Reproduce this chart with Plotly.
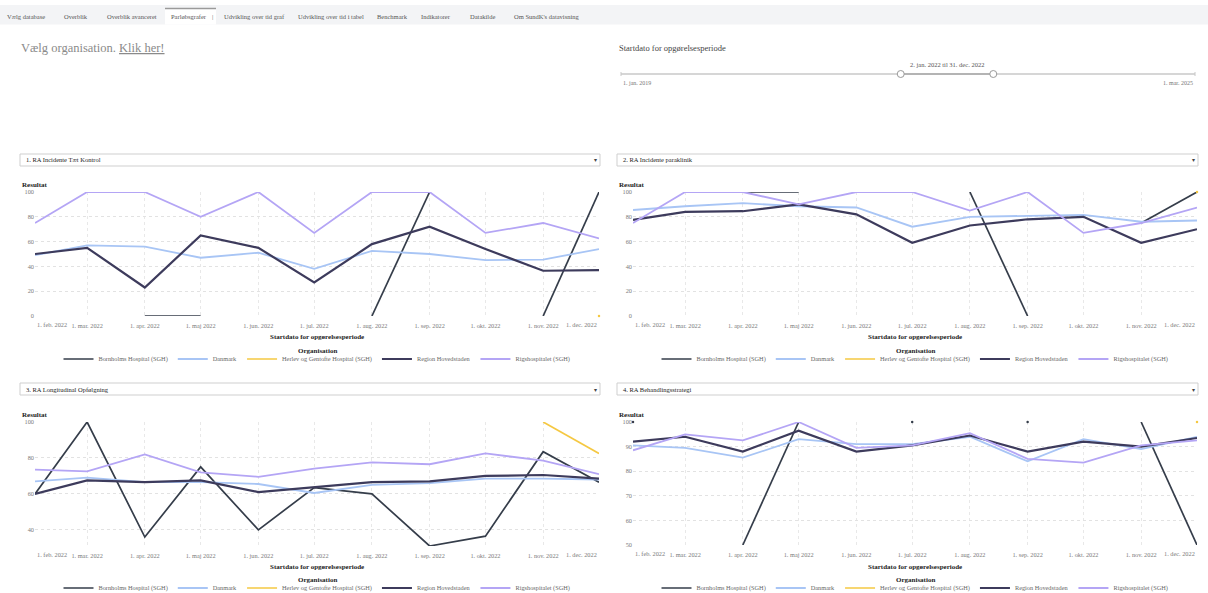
import plotly.graph_objects as go
from datetime import date

W, H = 1208, 593
FONT = "Liberation Serif"

months = ["2022-02-01", "2022-03-01", "2022-04-01", "2022-05-01", "2022-06-01", "2022-07-01",
          "2022-08-01", "2022-09-01", "2022-10-01", "2022-11-01", "2022-12-01"]
month_labels = ["1. feb. 2022", "1. mar. 2022", "1. apr. 2022", "1. maj 2022", "1. jun. 2022",
                "1. jul. 2022", "1. aug. 2022", "1. sep. 2022", "1. okt. 2022", "1. nov. 2022",
                "1. dec. 2022"]

organisations = ["Bornholms Hospital (SGH)", "Danmark", "Herlev og Gentofte Hospital (SGH)",
                 "Region Hovedstaden", "Rigshospitalet (SGH)"]
org_colors = ["#353d4a", "#a8c5f5", "#f5c842", "#3d3b5c", "#b4a5f5"]
org_widths = [1.7, 1.8, 1.7, 2.2, 1.8]

indicator_titles = ["1. RA Incidente Tæt Kontrol", "2. RA Incidente paraklinik",
                    "3. RA Longitudinal Opfølgning", "4. RA Behandlingsstrategi"]

N = None
# Chart 1: RA Incidente Tæt Kontrol
c1_bornholm = [N, N, 0, 0, N, N, 0, 100, N, 0, 100]
c1_danmark = [49, 57, 56, 47, 51, 38, 52.5, 50, 45, 45.5, 54]
c1_herlev = [N, N, N, N, N, N, N, N, N, N, 0]
c1_region = [50, 55, 23, 65, 55, 27, 58, 72, 54, 36.5, 37]
c1_rigs = [75, 100, 100, 80, 100, 67, 100, 100, 67, 75, 62.5]

# Chart 2: RA Incidente paraklinik
c2_bornholm = [N, N, 100, 100, N, N, 100, 0, N, 75, 100]
c2_danmark = [85.5, 88.5, 91, 88.5, 87.5, 72, 80, 80.5, 81.5, 76, 77]
c2_herlev = [N, N, N, N, N, N, N, N, N, N, 100]
c2_region = [77.5, 84, 84.5, 90, 82, 59, 73, 78, 80, 59, 70]
c2_rigs = [75, 100, 100, 90, 100, 100, 85, 100, 67, 75, 87.5]

# Chart 3: RA Longitudinal Opfølgning
c3_bornholm = [60, 100, 36, 75, 40, 63.5, 60, 31, 36.5, 83.5, 66.5]
c3_danmark = [67, 69, 66.5, 66.5, 65.5, 60.5, 65, 66, 68.5, 68.5, 68]
c3_herlev = [N, N, N, N, N, N, N, N, N, 100, 82.5]
c3_region = [60, 67.5, 66.5, 67.5, 61, 63.5, 66.5, 67, 70, 70.5, 68.5]
c3_rigs = [73.5, 72.5, 82, 72, 69.5, 74, 77.5, 76.5, 82.5, 78.5, 71]

# Chart 4: RA Behandlingsstrategi
c4_bornholm = [100, N, 50, 100, N, 100, N, 100, N, 100, 50]
c4_danmark = [90.5, 89.5, 85.5, 93, 91, 91, 94, 84, 93, 89, 94]
c4_herlev = [N, N, N, N, N, N, N, N, N, N, 100]
c4_region = [92, 94, 88, 96.5, 88, 90.5, 94.5, 88, 92, 90, 93.5]
c4_rigs = [88.5, 95, 92.5, 100, 89.5, 90.5, 95.5, 85, 83.5, 90.5, 92.5]

charts = [
    [c1_bornholm, c1_danmark, c1_herlev, c1_region, c1_rigs],
    [c2_bornholm, c2_danmark, c2_herlev, c2_region, c2_rigs],
    [c3_bornholm, c3_danmark, c3_herlev, c3_region, c3_rigs],
    [c4_bornholm, c4_danmark, c4_herlev, c4_region, c4_rigs],
]
y_dticks = [20, 20, 20, 10]

nav_tabs = ["Vælg database", "Overblik", "Overblik avanceret", "Parløbsgrafer", "|",
            "Udvikling over tid graf", "Udvikling over tid i tabel", "Benchmark",
            "Indikatorer", "Datakilde", "Om SundK's datavisning"]
nav_x = [5, 62, 105, 169, 210, 222, 296, 375, 419, 468, 512]

slider_min, slider_max = date(2019, 1, 1), date(2025, 3, 1)
slider_lo, slider_hi = date(2022, 1, 2), date(2022, 12, 31)


def fx(px):
    return px / W


def fy(py):
    return 1 - py / H


def isolated_only(vals):
    out = []
    for k, v in enumerate(vals):
        prev_none = k == 0 or vals[k - 1] is None
        next_none = k == len(vals) - 1 or vals[k + 1] is None
        out.append(v if (v is not None and prev_none and next_none) else None)
    return out


# plot-area pixel boxes: (left, right, top, bottom)
boxes = [(35, 599, 192, 316), (633, 1197, 192, 316), (35, 599, 422, 546), (633, 1197, 422, 545)]
legend_rows = [359, 359, 588, 588]
legend_title_y = [351, 351, 580, 580]
xtitle_y = [337, 337, 567, 567]
dropdown_y = [(154, 166), (154, 166), (383, 395), (383, 395)]
dropdown_x = [(20, 600), (617, 1198), (20, 600), (617, 1198)]

fig = go.Figure()
layout = dict(width=W, height=H, margin=dict(l=0, r=0, t=0, b=0, autoexpand=False),
              paper_bgcolor="white", plot_bgcolor="white",
              font=dict(family=FONT, size=7, color="#666"), showlegend=True)

shapes, annotations = [], []
tickfont = dict(family=FONT, size=6.3, color="#7a7a7a")
inner_text = [""] + month_labels[1:-1] + [""]

for i, series in enumerate(charts):
    k = "" if i == 0 else str(i + 1)
    leg = "legend" if i == 0 else f"legend{i + 1}"
    for j, vals in enumerate(series):
        fig.add_trace(go.Scatter(
            x=months, y=vals, mode="lines", name=organisations[j],
            line=dict(color=org_colors[j], width=org_widths[j]),
            xaxis="x" + k, yaxis="y" + k, legend=leg, connectgaps=False, cliponaxis=False,
        ))
        iso = isolated_only(vals)
        if any(v is not None for v in iso):
            fig.add_trace(go.Scatter(
                x=months, y=iso, mode="markers", name=organisations[j], showlegend=False,
                marker=dict(size=2.5, color=org_colors[j], line=dict(width=0)),
                xaxis="x" + k, yaxis="y" + k, cliponaxis=False, hoverinfo="skip",
            ))
    all_vals = [v for s in series for v in s if v is not None]
    l, r, t, b = boxes[i]
    layout["xaxis" + k] = dict(
        domain=[fx(l), fx(r)], anchor="y" + k, type="date", range=[months[0], months[-1]],
        tickvals=months, ticktext=inner_text, showgrid=True, gridcolor="#e8e8e8",
        griddash="dot", zeroline=False, showline=False, ticks="",
        tickfont=tickfont, ticklabelstandoff=5,
    )
    layout["yaxis" + k] = dict(
        domain=[fy(b), fy(t)], anchor="x" + k, dtick=y_dticks[i],
        range=[min(all_vals), max(all_vals)], showgrid=True,
        gridcolor="#e2e2e2", griddash="dot", zeroline=False, showline=False, ticks="",
        tickfont=tickfont,
    )
    # first / last tick labels flush inside the plot area
    for tv, tt, anch in [(months[0], month_labels[0], "left"),
                         (months[-1], month_labels[-1], "right")]:
        annotations.append(dict(x=tv, xref="x" + k, y=0, yref=f"y{k} domain", text=tt,
                                showarrow=False, xanchor=anch, yanchor="top", yshift=-2.5,
                                font=tickfont))
    layout[leg] = dict(
        orientation="h", x=fx((l + r) / 2), xanchor="center", y=fy(legend_rows[i]),
        yanchor="middle", font=dict(family=FONT, size=6.3, color="#666"),
        bgcolor="rgba(0,0,0,0)", itemwidth=30, tracegroupgap=0,
    )
    annotations.append(dict(x=fx((l + r) / 2), y=fy(legend_title_y[i]), xref="paper",
                            yref="paper", text="<b>Organisation</b>", showarrow=False,
                            xanchor="center", yanchor="middle",
                            font=dict(family=FONT, size=7, color="#222")))
    annotations.append(dict(x=fx(dropdown_x[i][0]), y=fy(t - 7), xref="paper", yref="paper",
                            text="<b>Resultat</b>", showarrow=False, xanchor="left",
                            yanchor="middle", font=dict(family=FONT, size=7, color="#222")))
    annotations.append(dict(x=fx((l + r) / 2), y=fy(xtitle_y[i]), xref="paper", yref="paper",
                            text="<b>Startdato for opgørelsesperiode</b>", showarrow=False,
                            xanchor="center", yanchor="middle",
                            font=dict(family=FONT, size=7, color="#222")))
    dx0, dx1 = dropdown_x[i]
    dy0, dy1 = dropdown_y[i]
    shapes.append(dict(type="rect", xref="paper", yref="paper", x0=fx(dx0), x1=fx(dx1),
                       y0=fy(dy1), y1=fy(dy0), line=dict(color="#cfcfcf", width=1),
                       fillcolor="white", layer="below"))
    annotations.append(dict(x=fx(dx0 + 4), y=fy((dy0 + dy1) / 2), xref="paper", yref="paper",
                            text=indicator_titles[i], showarrow=False, xanchor="left",
                            yanchor="middle", font=dict(family=FONT, size=6.5, color="#222")))
    annotations.append(dict(x=fx(dx1 - 5), y=fy((dy0 + dy1) / 2), xref="paper", yref="paper",
                            text="▾", showarrow=False, xanchor="center", yanchor="middle",
                            font=dict(family="DejaVu Sans", size=6, color="#444")))

# navigation bar
shapes.append(dict(type="rect", xref="paper", yref="paper", x0=0, x1=1, y0=fy(24.5), y1=fy(5),
                   line=dict(width=0), fillcolor="#f3f4f6", layer="below"))
shapes.append(dict(type="rect", xref="paper", yref="paper", x0=fx(165), x1=fx(216),
                   y0=fy(24.5), y1=fy(8.5), line=dict(width=0), fillcolor="white", layer="below"))
shapes.append(dict(type="line", xref="paper", yref="paper", x0=fx(165), x1=fx(216),
                   y0=fy(8.5), y1=fy(8.5), line=dict(color="#9a9a9a", width=1.5)))
for name, x in zip(nav_tabs, nav_x):
    annotations.append(dict(x=fx(x), y=fy(16.5), xref="paper", yref="paper", text=name,
                            showarrow=False, xanchor="left", yanchor="middle",
                            font=dict(family=FONT, size=6.5, color="#555")))

annotations.append(dict(x=fx(19), y=fy(47.5), xref="paper", yref="paper",
                        text="Vælg organisation. <u>Klik her!</u>", showarrow=False,
                        xanchor="left", yanchor="middle",
                        font=dict(family=FONT, size=12.5, color="#8a8a8a")))
annotations.append(dict(x=fx(617), y=fy(48), xref="paper", yref="paper",
                        text="Startdato for opgørelsesperiode", showarrow=False,
                        xanchor="left", yanchor="middle",
                        font=dict(family=FONT, size=8.5, color="#444")))

# date range slider
sx0, sx1, sy = 621, 1195, 74
span = (slider_max - slider_min).days


def spos(d):
    return sx0 + (d - slider_min).days / span * (sx1 - sx0)


hx0, hx1 = spos(slider_lo), spos(slider_hi)
shapes.append(dict(type="line", xref="paper", yref="paper", x0=fx(sx0), x1=fx(sx1),
                   y0=fy(sy), y1=fy(sy), line=dict(color="#c8c8c8", width=1.5)))
shapes.append(dict(type="line", xref="paper", yref="paper", x0=fx(hx0), x1=fx(hx1),
                   y0=fy(sy), y1=fy(sy), line=dict(color="#a8a8a8", width=1.5)))
for ex in (sx0, sx1):
    shapes.append(dict(type="line", xref="paper", yref="paper", x0=fx(ex), x1=fx(ex),
                       y0=fy(sy - 2), y1=fy(sy + 2), line=dict(color="#c8c8c8", width=1)))
for hx in (hx0, hx1):
    shapes.append(dict(type="circle", xref="paper", yref="paper", x0=fx(hx - 3.5),
                       x1=fx(hx + 3.5), y0=fy(sy + 3.5), y1=fy(sy - 3.5),
                       line=dict(color="#9a9a9a", width=1), fillcolor="white"))
annotations.append(dict(x=fx((hx0 + hx1) / 2), y=fy(64.5), xref="paper", yref="paper",
                        text="2. jan. 2022 til 31. dec. 2022", showarrow=False,
                        xanchor="center", yanchor="middle",
                        font=dict(family=FONT, size=6.5, color="#555")))
annotations.append(dict(x=fx(sx0), y=fy(83), xref="paper", yref="paper", text="1. jan. 2019",
                        showarrow=False, xanchor="left", yanchor="middle",
                        font=dict(family=FONT, size=6, color="#777")))
annotations.append(dict(x=fx(sx1), y=fy(83), xref="paper", yref="paper", text="1. mar. 2025",
                        showarrow=False, xanchor="right", yanchor="middle",
                        font=dict(family=FONT, size=6, color="#777")))

layout["shapes"] = shapes
layout["annotations"] = annotations
fig.update_layout(**layout)
fig.write_html("out.html", config={"displayModeBar": False},
               post_script="document.body.style.margin='0px';")
